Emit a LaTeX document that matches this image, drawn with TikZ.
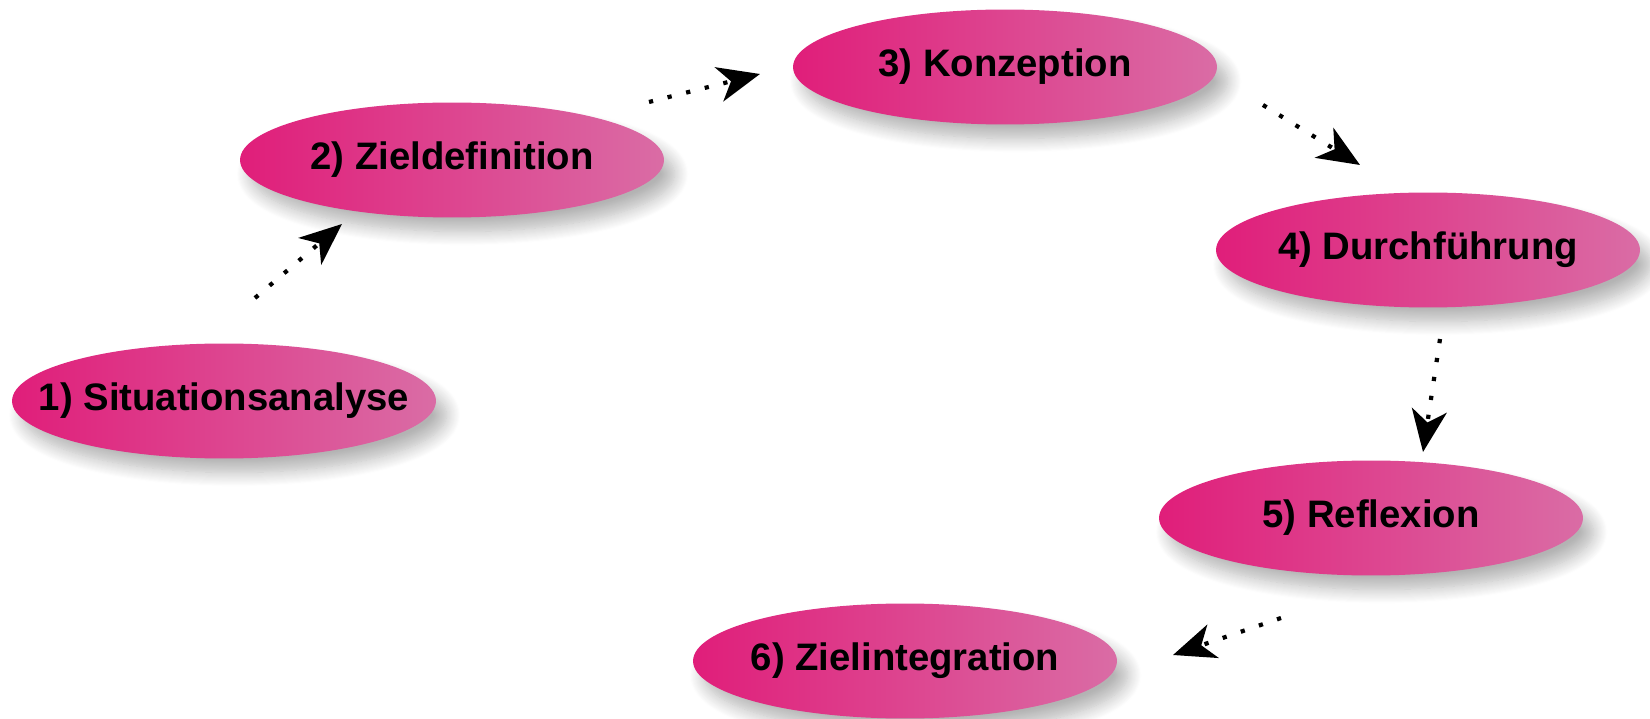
\documentclass[tikz,border=0pt]{standalone}
\usepackage{fontspec}
\setmainfont{Liberation Sans}
\usepackage{tikz}
\usetikzlibrary{arrows.meta,shapes.geometric,shadows.blur}
\definecolor{phaseL}{RGB}{224,30,122}
\definecolor{phaseR}{RGB}{218,108,165}
\tikzset{
	phase/.style={
		ellipse, minimum width=8.48cm, minimum height=2.3cm, inner ysep=0pt, inner xsep=-1.5cm,
		left color=phaseL, right color=phaseR,
		blur shadow={shadow xshift=6pt, shadow yshift=-8pt, shadow opacity=30, shadow blur radius=8pt, shadow blur steps=14},
		font=\bfseries\fontsize{21.8}{26}\selectfont},
	ar/.style={line width=2.4pt, dash pattern=on 2.4pt off 8.5pt,
		-{Stealth[length=24pt, width=20pt, inset=7pt]}}
}

\begin{document}
\begin{tikzpicture}[x=0.02cm, y=-0.02cm]
  \useasboundingbox (0,0) rectangle (1650,719);
  \node[phase] (P1) at (224,401)  {1) Situationsanalyse};
  \node[phase] (P2) at (452,160)  {2) Zieldefinition};
  \node[phase] (P3) at (1005,67)  {3) Konzeption};
  \node[phase] (P4) at (1428,250) {4) Durchführung};
  \node[phase] (P5) at (1371,518) {5) Reflexion};
  \node[phase] (P6) at (905,661)  {6) Zielintegration};
  % free ends of the arrows
  \coordinate (P1out) at (255,298);  \coordinate (P2in) at (342,224);
  \coordinate (P2out) at (649,102);  \coordinate (P3in) at (760,74);
  \coordinate (P3out) at (1263,105); \coordinate (P4in) at (1360,165);
  \coordinate (P4out) at (1440,339); \coordinate (P5in) at (1423,452);
  \coordinate (P5out) at (1281,618); \coordinate (P6in) at (1173,655);
  \draw[ar] (P1out) -- (P2in);
  \draw[ar] (P2out) -- (P3in);
  \draw[ar] (P3out) -- (P4in);
  \draw[ar] (P4out) -- (P5in);
  \draw[ar] (P5out) -- (P6in);
\end{tikzpicture}
\end{document}
